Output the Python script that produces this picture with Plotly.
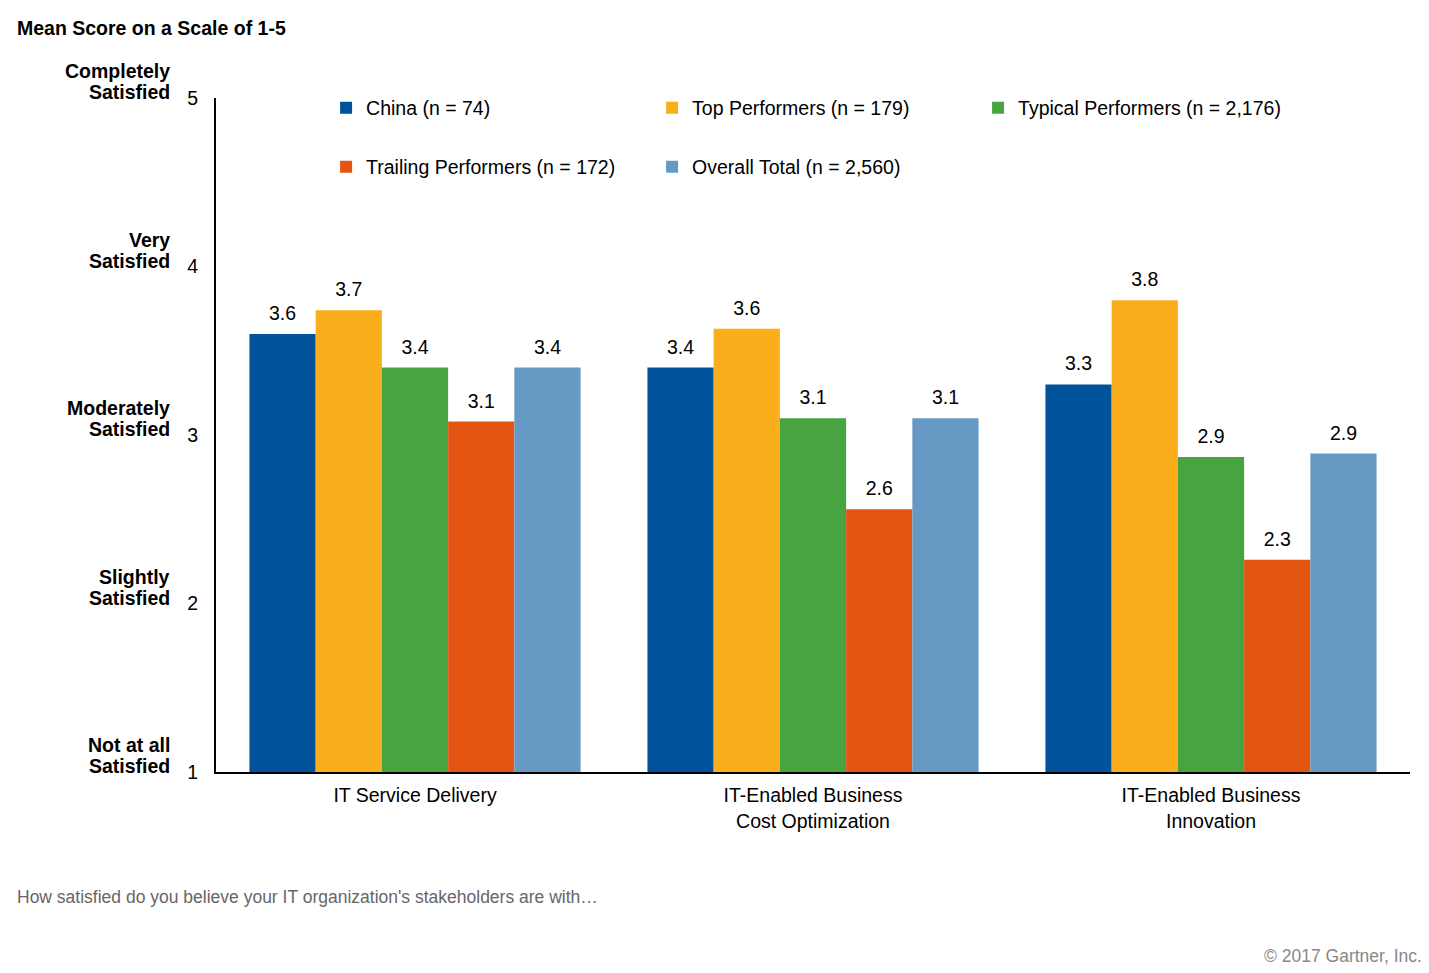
import plotly.graph_objects as go

# ---------------- data ----------------
categories = ["IT Service Delivery",
              "IT-Enabled Business<br>Cost Optimization",
              "IT-Enabled Business<br>Innovation"]
series_names = ["China (n = 74)", "Top Performers (n = 179)", "Typical Performers (n = 2,176)",
                "Trailing Performers (n = 172)", "Overall Total (n = 2,560)"]
china = [3.60, 3.40, 3.30]
top_perf = [3.74, 3.63, 3.80]
typical = [3.40, 3.10, 2.87]
trailing = [3.08, 2.56, 2.26]
overall = [3.40, 3.10, 2.89]
series_values = [china, top_perf, typical, trailing, overall]
colors = ["#00529B", "#FBAE1B", "#47A441", "#E45512", "#6699C4"]
legend_ids = ["legend", "legend", "legend", "legend2", "legend2"]

y_ticks = [1, 2, 3, 4, 5]
y_desc_line1 = ["Not at all", "Slightly", "Moderately", "Very", "Completely"]
y_desc_line2 = ["Satisfied", "Satisfied", "Satisfied", "Satisfied", "Satisfied"]

FONT = "Liberation Sans, Arial, sans-serif"
FS = 19.5

fig = go.Figure()
for name, vals, col, lg in zip(series_names, series_values, colors, legend_ids):
    fig.add_trace(go.Bar(x=categories, y=vals, name=name, marker_color=col,
                         marker_line_width=0, offsetgroup=name, legend=lg,
                         hoverinfo="skip"))
for name, vals in zip(series_names, series_values):
    fig.add_trace(go.Scatter(x=categories, y=vals, mode="markers+text",
                             texttemplate="%{y:.1f}", textposition="top center",
                             textfont=dict(size=FS, color="#000000", family=FONT),
                             marker=dict(size=13, opacity=0), offsetgroup=name,
                             showlegend=False, hoverinfo="skip"))

annotations = []
for v, l1, l2 in zip(y_ticks, y_desc_line1, y_desc_line2):
    annotations.append(dict(xref="paper", yref="y", x=0, y=v, xshift=-44, yshift=27,
                            xanchor="right", yanchor="middle", text=f"<b>{l1}</b>",
                            showarrow=False, font=dict(size=FS, color="#000000", family=FONT)))
    annotations.append(dict(xref="paper", yref="y", x=0, y=v, xshift=-44, yshift=6,
                            xanchor="right", yanchor="middle", text=f"<b>{l2}</b>",
                            showarrow=False, font=dict(size=FS, color="#000000", family=FONT)))
annotations.append(dict(xref="paper", yref="paper", x=-0.1684, y=-0.1855,
                        xanchor="left", yanchor="middle",
                        text="How satisfied do you believe your IT organization's stakeholders are with…",
                        showarrow=False, font=dict(size=17.5, color="#666666", family=FONT)))
annotations.append(dict(xref="paper", yref="paper", x=1.0117, y=-0.273,
                        xanchor="right", yanchor="middle", text="© 2017 Gartner, Inc.",
                        showarrow=False, font=dict(size=17.5, color="#888888", family=FONT)))

fig.update_layout(
    width=1421, height=965,
    margin=dict(l=208, r=19, t=90, b=201),
    paper_bgcolor="white", plot_bgcolor="white",
    font=dict(family=FONT, size=FS, color="#000000"),
    title=dict(text="<b>Mean Score on a Scale of 1-5</b>", x=0.00633, xref="container",
               xanchor="left", y=0.9793, yref="container", yanchor="middle",
               font=dict(size=FS, color="#000000", family=FONT)),
    barmode="group", bargap=0.168, bargroupgap=0,
    scattermode="group", scattergap=0.168,
    showlegend=True,
    legend=dict(orientation="h", x=0.0922, xanchor="left", y=0.985, yanchor="middle",
                entrywidth=281, entrywidthmode="pixels", traceorder="normal",
                font=dict(size=FS, color="#000000", family=FONT), bgcolor="rgba(0,0,0,0)"),
    legend2=dict(orientation="h", x=0.0922, xanchor="left", y=0.8976, yanchor="middle",
                 entrywidth=281, entrywidthmode="pixels", traceorder="normal",
                 font=dict(size=FS, color="#000000", family=FONT), bgcolor="rgba(0,0,0,0)"),
    annotations=annotations,
)
fig.update_xaxes(showline=True, linecolor="#000000", linewidth=2, ticks="",
                 showgrid=False, zeroline=False, ticklabelstandoff=5,
                 tickfont=dict(size=FS, color="#000000", family=FONT))
fig.update_yaxes(range=[1, 5], tickvals=y_ticks, showline=True, linecolor="#000000",
                 linewidth=2, ticks="", showgrid=False, zeroline=False,
                 ticklabelstandoff=12,
                 tickfont=dict(size=FS, color="#000000", family=FONT))

fig.write_html("out.html")
